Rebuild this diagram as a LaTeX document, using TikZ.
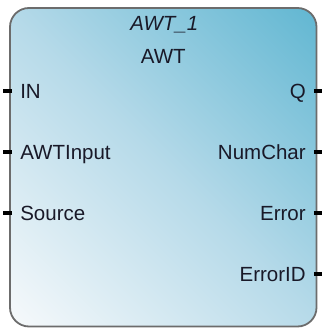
\documentclass[tikz,border=0pt]{standalone}
\usepackage{fontspec}
\setmainfont{Liberation Sans}
\usetikzlibrary{positioning,calc}
\definecolor{fblight}{RGB}{246,249,251}
\definecolor{fbmid}{RGB}{182,218,233}
\definecolor{fbblue}{RGB}{98,183,210}
\definecolor{fbgray}{RGB}{108,108,108}
\definecolor{fbtext}{RGB}{25,25,40}
\pgfdeclareverticalshading{fbshade}{100bp}{color(0bp)=(fblight); color(15bp)=(fblight);
  color(50bp)=(fbmid); color(85bp)=(fbblue); color(100bp)=(fbblue)}
\tikzset{
  fbbox/.style={
    rectangle, rounded corners=19pt, draw=fbgray, line width=1.8pt,
    shade, shading=fbshade, shading angle=-45,
    minimum width=306.5pt, minimum height=318.5pt, inner sep=0pt
  },
  pinL/.style={anchor=west, inner sep=0pt, text height=14.7pt, text depth=0pt, text=fbtext},
  pinR/.style={anchor=east, inner sep=0pt, text height=14.7pt, text depth=0pt, text=fbtext},
  title/.style={inner sep=0pt, text height=14.7pt, text depth=0pt, text=fbtext},
  stub/.style={line width=3.6pt, black}
}

\begin{document}
\begin{tikzpicture}[x=1pt, y=1pt, font=\fontsize{20.5}{24}\selectfont]
  \useasboundingbox (0,0) rectangle (321,328);

  \node[fbbox] (fb) at (163.25,160.75) {};

  \node[title, font=\fontsize{20.5}{24}\selectfont\itshape, below=8.2pt of fb.north, xshift=1pt] (inst) {AWT\_1};
  \node[title, below=17.8pt of inst, xshift=-1pt] (type) {AWT};

  % inputs
  \node[pinL] (in) at ($(fb.north west)+(11pt,-84pt)$) {IN};
  \node[pinL, below=45.8pt of in.south west, anchor=north west] (awtin) {AWTInput};
  \node[pinL, below=45.8pt of awtin.south west, anchor=north west] (src) {Source};

  % outputs
  \node[pinR] (q) at ($(fb.north east)+(-11.5pt,-84pt)$) {Q};
  \node[pinR, below=45.8pt of q.south east, anchor=north east] (num) {NumChar};
  \node[pinR, below=45.8pt of num.south east, anchor=north east] (err) {Error};
  \node[pinR, below=45.8pt of err.south east, anchor=north east] (errid) {ErrorID};

  \foreach \p in {in,awtin,src}
    \draw[stub] ([xshift=3pt]fb.west |- \p) -- ++(-9pt,0);
  \foreach \p in {q,num,err,errid}
    \draw[stub] ([xshift=-3.5pt]fb.east |- \p) -- ++(8pt,0);
\end{tikzpicture}
\end{document}
